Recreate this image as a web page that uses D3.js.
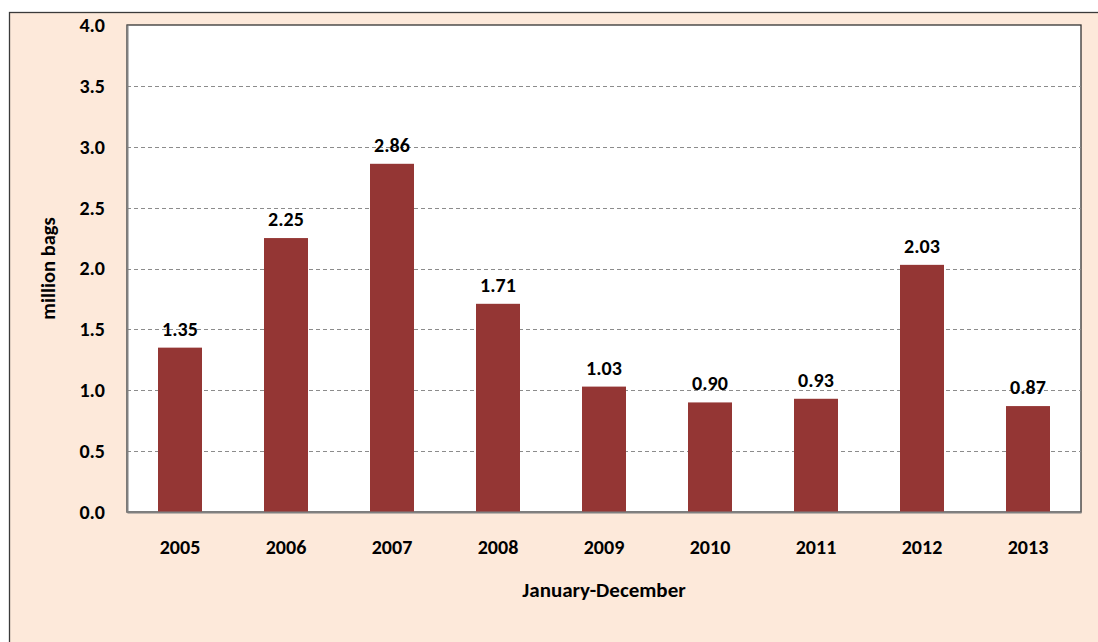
<!DOCTYPE html>
<html>
<head>
<meta charset="utf-8">
<script src="https://cdn.jsdelivr.net/npm/d3@7"></script>
<style>
  body { margin: 0; background: #fff; }
  text { font-family: Carlito, Calibri, Lato, sans-serif; font-weight: bold; fill: #000; }
</style>
</head>
<body>
<div id="chart"></div>
<script>
// datos del gráfico
var years = ["2005", "2006", "2007", "2008", "2009", "2010", "2011", "2012", "2013"];
var values = [1.35, 2.25, 2.86, 1.71, 1.03, 0.90, 0.93, 2.03, 0.87];
var yTicks = [0, 0.5, 1, 1.5, 2, 2.5, 3, 3.5, 4];

var width = 1098, height = 642;
var plot = {left: 127, top: 25, right: 1081, bottom: 512};

var svg = d3.select("#chart").append("svg")
  .attr("width", width)
  .attr("height", height);

// fondo exterior
svg.append("rect")
  .attr("x", 9.5).attr("y", 12.5)
  .attr("width", width + 10).attr("height", height + 10)
  .style("fill", "#fde9da")
  .style("stroke", "#3a3a3a")
  .style("stroke-width", 1.3);

var x = d3.scaleBand()
  .domain(years)
  .range([plot.left, plot.right])
  .paddingInner(0.585)
  .paddingOuter(0.2925);

var y = d3.scaleLinear()
  .domain([0, 4])
  .range([plot.bottom, plot.top]);

// área del gráfico
svg.append("rect")
  .attr("x", plot.left).attr("y", plot.top)
  .attr("width", plot.right - plot.left).attr("height", plot.bottom - plot.top)
  .style("fill", "#fff")
  .style("stroke", "#333")
  .style("stroke-width", 1.3);

// líneas de grilla
svg.selectAll("line.grid")
  .data(yTicks.filter(function(d){ return d > 0 && d < 4; }))
  .enter().append("line")
  .attr("class", "grid")
  .attr("x1", plot.left).attr("x2", plot.right)
  .attr("y1", function(d){ return Math.round(y(d)) + 0.5; })
  .attr("y2", function(d){ return Math.round(y(d)) + 0.5; })
  .style("stroke", "#8c8c8c")
  .style("stroke-dasharray", "4,3");

// barras
svg.selectAll("rect.bar")
  .data(values)
  .enter().append("rect")
  .attr("class", "bar")
  .attr("x", function(d, i){ return x(years[i]); })
  .attr("y", function(d){ return y(d); })
  .attr("width", x.bandwidth())
  .attr("height", function(d){ return plot.bottom - y(d); })
  .style("fill", "#943634");

// etiquetas de valores
svg.selectAll("text.val")
  .data(values)
  .enter().append("text")
  .attr("class", "val")
  .attr("x", function(d, i){ return x(years[i]) + x.bandwidth() / 2; })
  .attr("y", function(d){ return y(d) - 12; })
  .attr("text-anchor", "middle")
  .style("font-size", "20px")
  .text(function(d){ return d.toFixed(2); });

// ejes
var yAxis = svg.append("g")
  .attr("transform", "translate(" + plot.left + ",0)")
  .call(d3.axisLeft(y).tickValues(yTicks).tickSize(0).tickPadding(22)
    .tickFormat(d3.format(".1f")));
yAxis.select(".domain").style("stroke", "#808080").style("stroke-width", 2);
yAxis.selectAll("text").style("font-size", "20px").attr("dy", "0.32em");

var xAxis = svg.append("g")
  .attr("transform", "translate(0," + plot.bottom + ")")
  .call(d3.axisBottom(x).tickSize(0).tickPadding(0));
xAxis.select(".domain").style("stroke", "#808080").style("stroke-width", 2);
xAxis.selectAll("text").style("font-size", "20px").attr("dy", null).attr("y", 42);

// títulos
svg.append("text")
  .attr("transform", "translate(55," + ((plot.top + plot.bottom) / 2) + ") rotate(-90)")
  .attr("text-anchor", "middle")
  .style("font-size", "20.5px")
  .text("million bags");

svg.append("text")
  .attr("x", (plot.left + plot.right) / 2)
  .attr("y", 597)
  .attr("text-anchor", "middle")
  .style("font-size", "21px")
  .text("January-December");
</script>
</body>
</html>
